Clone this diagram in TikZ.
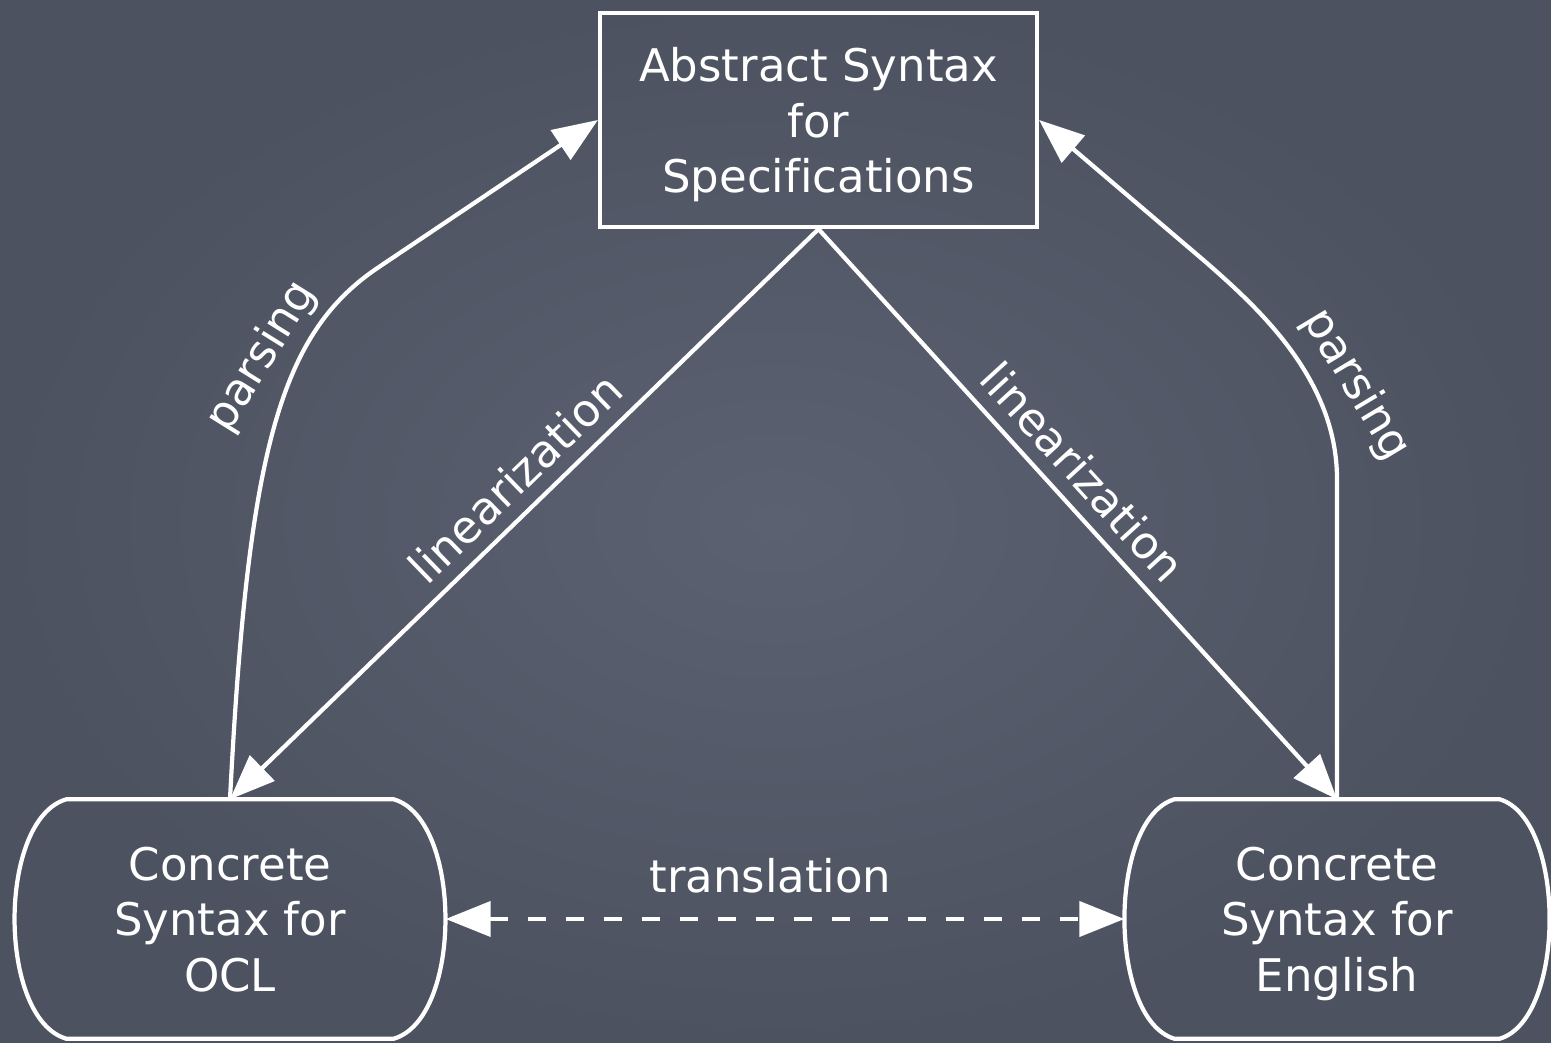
\documentclass[tikz,border=0pt]{standalone}
\usepackage{fontspec}
\setmainfont{DejaVu Sans}[Ligatures=NoCommon]
\usetikzlibrary{arrows.meta}
\definecolor{bgin}{HTML}{5B6171}
\definecolor{bgout}{HTML}{4D5260}
\tikzset{
  txt/.style={text=white, font=\fontsize{12.8}{15.8}\selectfont, inner sep=0pt},
  absbox/.style={txt, draw=white, line width=1.2pt, minimum width=4.37cm, minimum height=2.14cm, align=center, text depth=0pt},
  conbox/.style={txt, minimum height=2.38cm, align=center, text depth=0pt},
  outline/.style={draw=white, line width=1.2pt},
  conn/.style={draw=white, line width=1.2pt, line join=round, -{Triangle[length=4.5mm,width=3.5mm]}},
  dconn/.style={draw=white, line width=1.2pt, dash pattern=on 1.8mm off 2mm, {Triangle[length=4.5mm,width=3.5mm]}-{Triangle[length=4.5mm,width=3.5mm]}},
  lbl/.style={txt}
}
\begin{document}
\begin{tikzpicture}
\useasboundingbox (0,0) rectangle (15.51,-10.43);
\shade[inner color=bgin, outer color=bgout] (0,0) rectangle (15.51,-10.43);

\node[absbox] (abs) at (8.185,-1.20) {Abstract Syntax\\for\\Specifications};
\node[conbox, minimum width=4.30cm] (ocl) at (2.30,-9.19) {Concrete\\Syntax for\\OCL};
\node[conbox, minimum width=4.24cm] (eng) at (13.37,-9.19) {Concrete\\Syntax for\\English};

% outlines of the concrete-syntax boxes
\draw[outline] ([xshift=5.2mm]ocl.north west) -- ([xshift=-5.2mm]ocl.north east)
  .. controls +(6.9mm,-2mm) and +(6.9mm,2mm) .. ([xshift=-5.2mm]ocl.south east)
  -- ([xshift=5.2mm]ocl.south west)
  .. controls +(-6.9mm,2mm) and +(-6.9mm,-2mm) .. cycle;
\draw[outline] ([xshift=5mm]eng.north west) -- ([xshift=-5mm]eng.north east)
  .. controls +(6.65mm,-2mm) and +(6.65mm,2mm) .. ([xshift=-5mm]eng.south east)
  -- ([xshift=5mm]eng.south west)
  .. controls +(-6.65mm,2mm) and +(-6.65mm,-2mm) .. cycle;

% linearization
\draw[conn] (abs.south) -- (ocl.north);
\draw[conn] (abs.south) -- (eng.north);
% parsing
\draw[conn] (ocl.north) .. controls +(0.18,3.50) and +(-1.00,-0.66) .. ++(1.50,5.33)
  -- (abs.west);
\draw[conn] (eng.north) -- ++(0,3.20) .. controls +(0,1.00) and +(0.525,-0.46) .. ++(-1.31,2.17)
  -- (abs.east);
% translation
\draw[dconn] (ocl.east) -- (eng.west);

\node[lbl, rotate=58] (pl) at (2.62,-3.57) {parsing};
\node[lbl, rotate=-59] (pr) at (13.56,-3.85) {parsing};
\node[lbl, rotate=44.1] (ll) at (5.15,-4.78) {linearization};
\node[lbl, rotate=-47.6] (lr) at (10.83,-4.72) {linearization};
\node[lbl, anchor=base] (tr) at (7.705,-8.92) {translation};
\end{tikzpicture}
\end{document}
